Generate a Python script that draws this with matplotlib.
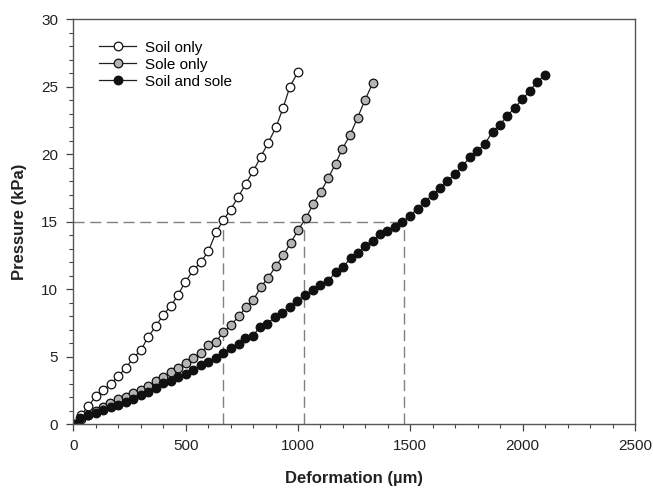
import matplotlib
matplotlib.use("Agg")
import matplotlib.pyplot as plt
from matplotlib.ticker import MultipleLocator

plt.rcParams['font.family'] = ['Liberation Sans', 'DejaVu Sans']

soil_x = [0, 33, 67, 101, 132, 168, 199, 234, 266, 302, 332, 368, 399, 434, 467, 497,
          534, 567, 601, 635, 667, 700, 733, 767, 801, 834, 866, 902, 933, 964, 1000]
soil_y = [0, 0.65, 1.33, 2.08, 2.52, 2.97, 3.56, 4.15, 4.89, 5.49, 6.45, 7.26, 8.08, 8.75, 9.6, 10.5,
          11.4, 12.0, 12.8, 14.2, 15.1, 15.9, 16.8, 17.8, 18.75, 19.8, 20.8, 22.0, 23.4, 25.0, 26.1]

sole_x = [0, 33, 67, 100, 132, 163, 200, 234, 267, 300, 334, 368, 400, 433, 467, 501, 534,
          568, 600, 635, 667, 702, 737, 768, 801, 834, 867, 902, 934, 967, 1001, 1035, 1068,
          1101, 1134, 1167, 1198, 1231, 1265, 1298, 1332]
sole_y = [0, 0.35, 0.7, 1.0, 1.25, 1.53, 1.83, 2.02, 2.28, 2.52, 2.82, 3.19, 3.46, 3.88, 4.13, 4.5, 4.87,
          5.24, 5.86, 6.1, 6.8, 7.34, 8.0, 8.65, 9.19, 10.13, 10.85, 11.7, 12.5, 13.4, 14.4, 15.25, 16.3,
          17.2, 18.2, 19.3, 20.4, 21.4, 22.7, 24.0, 25.25]

both_x = [0, 30, 67, 101, 133, 168, 200, 234, 267, 300, 334, 368, 400, 433, 467, 501, 534,
          568, 600, 635, 667, 702, 737, 764, 798, 830, 863, 897, 931, 964, 996, 1031, 1068,
          1100, 1134, 1169, 1201, 1234, 1268, 1298, 1332, 1364, 1397, 1431, 1465, 1497, 1532,
          1564, 1599, 1632, 1664, 1698, 1732, 1765, 1799, 1832, 1866, 1898, 1931, 1965, 1999,
          2032, 2064, 2098]
both_y = [0, 0.42, 0.67, 0.79, 1.04, 1.24, 1.41, 1.65, 1.85, 2.15, 2.39, 2.65, 3.02, 3.19, 3.46, 3.71, 4.0,
          4.37, 4.62, 4.87, 5.29, 5.61, 5.91, 6.35, 6.52, 7.17, 7.41, 7.95, 8.25, 8.7, 9.12, 9.56, 9.93,
          10.3, 10.6, 11.3, 11.66, 12.28, 12.65, 13.2, 13.59, 14.08, 14.33, 14.58, 14.95, 15.44, 15.94,
          16.48, 16.98, 17.47, 18.01, 18.51, 19.13, 19.77, 20.26, 20.76, 21.67, 22.16, 22.83, 23.45, 24.07,
          24.71, 25.33, 25.87]

ref_pressure = 15
ref_deform = [667, 1025, 1470]

fig = plt.figure(figsize=(6.53, 4.88), dpi=100)
ax = fig.add_axes([0.1123, 0.1311, 0.8601, 0.8294])

dash = dict(color='#808080', lw=1.0, dashes=(8, 4))
ax.plot([0, max(ref_deform)], [ref_pressure, ref_pressure], **dash)
for d in ref_deform:
    ax.plot([d, d], [0, ref_pressure], **dash)

common = dict(lw=0.9, color='#202020', markersize=6.2, markeredgecolor='#101010', markeredgewidth=0.9)
ax.plot(soil_x, soil_y, marker='o', markerfacecolor='white', label='Soil only', **common)
ax.plot(sole_x, sole_y, marker='o', markerfacecolor='#b4b4b4', label='Sole only', **common)
ax.plot(both_x, both_y, marker='o', markerfacecolor='#111111', label='Soil and sole', **common)

ax.set_xlim(0, 2500)
ax.set_ylim(0, 30)
ax.xaxis.set_major_locator(MultipleLocator(500))
ax.xaxis.set_minor_locator(MultipleLocator(100))
ax.yaxis.set_major_locator(MultipleLocator(5))
ax.yaxis.set_minor_locator(MultipleLocator(1))
ax.tick_params(which='both', direction='out', colors='#444444', labelcolor='#222222', labelsize=11)
ax.tick_params(which='major', length=5, width=0.9, pad=6)
ax.tick_params(which='minor', length=3, width=0.8)
for s in ax.spines.values():
    s.set_color('#555555')
    s.set_linewidth(1.0)

ax.set_xlabel('Deformation (µm)', fontsize=12, fontweight='bold', labelpad=13, color='#222222')
ax.set_ylabel('Pressure (kPa)', fontsize=12, fontweight='bold', labelpad=10, color='#222222')

leg = ax.legend(loc='upper left', bbox_to_anchor=(0.03, 0.97), frameon=False, fontsize=11,
                handlelength=2.4, handletextpad=0.6, labelspacing=0.2, borderaxespad=0.2)

fig.savefig('out.png', dpi=100)
